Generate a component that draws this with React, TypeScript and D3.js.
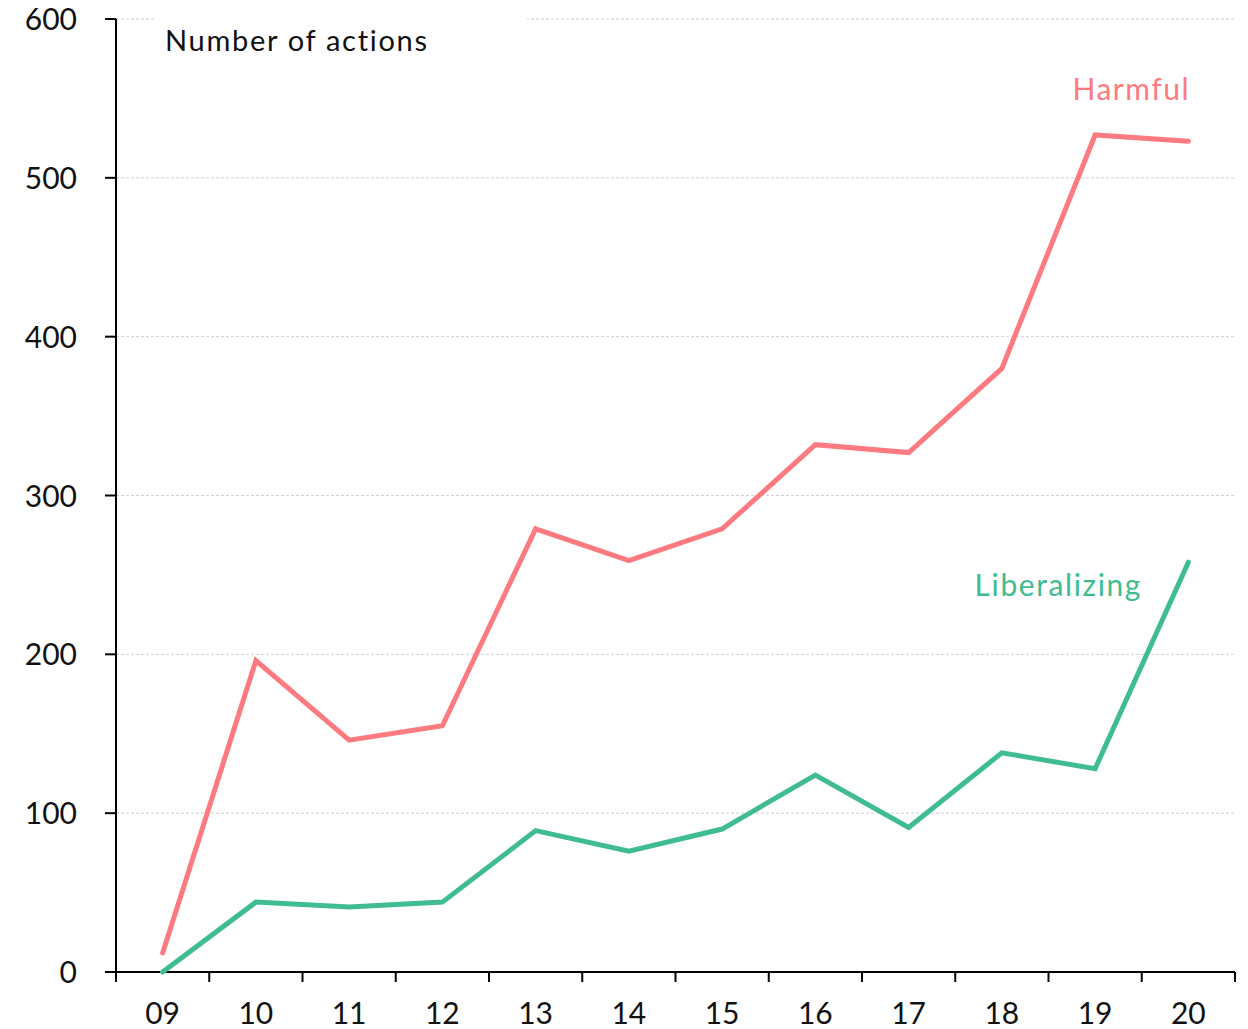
import * as d3 from 'd3';

const years = ['09', '10', '11', '12', '13', '14', '15', '16', '17', '18', '19', '20'];
const harmful = [12, 196, 146, 155, 279, 259, 279, 332, 327, 380, 527, 523];
const liberalizing = [0, 44, 41, 44, 89, 76, 90, 124, 91, 138, 128, 258];
const yTicks = [0, 100, 200, 300, 400, 500, 600];

const WIDTH = 1248;
const HEIGHT = 1029;
const FONT = "Lato, 'Noto Sans', sans-serif";
const RED = '#fd7a80';
const GREEN = '#40bc91';

export default function App() {
  const left = 116;
  const right = 1235;
  const top = 19;
  const bottom = 972;

  const x = d3.scaleBand<string>().domain(years).range([left, right]);
  const y = d3.scaleLinear().domain([0, 600]).range([bottom, top]);
  const cx = (d: string) => (x(d) ?? 0) + x.bandwidth() / 2;

  const line = d3.line<number>()
    .x((_, i) => cx(years[i]))
    .y(d => y(d));

  return (
    <svg
      width={WIDTH}
      height={HEIGHT}
      style={{ position: 'absolute', left: 0, top: 0, background: '#fff' }}
      fontFamily={FONT}
    >
      {/* gridlines */}
      {yTicks.filter(t => t > 0).map(t => (
        <line
          key={t}
          x1={left}
          x2={right}
          y1={y(t)}
          y2={y(t)}
          stroke="#d0d0d0"
          strokeWidth={1}
          strokeDasharray="3,2"
        />
      ))}

      {/* title box covering gridline */}
      <rect x={155} y={12} width={372} height={40} fill="#fff" />
      <text x={165} y={51} fontSize={29} letterSpacing={1.7} fill="#111">Number of actions</text>

      {/* y axis */}
      <line x1={left} x2={left} y1={top} y2={bottom} stroke="#000" strokeWidth={2} />
      {yTicks.map(t => (
        <g key={t}>
          <line x1={105} x2={left} y1={y(t)} y2={y(t)} stroke="#000" strokeWidth={2} />
          <text x={77} y={y(t) + 11} textAnchor="end" fontSize={30} fill="#111">{t}</text>
        </g>
      ))}

      {/* x axis */}
      <line x1={105} x2={right} y1={bottom} y2={bottom} stroke="#000" strokeWidth={2} />
      {years.map(d => (
        <line key={'t' + d} x1={x(d)} x2={x(d)} y1={bottom} y2={bottom + 10} stroke="#000" strokeWidth={2} />
      ))}
      <line x1={right} x2={right} y1={bottom} y2={bottom + 10} stroke="#000" strokeWidth={2} />
      {years.map(d => (
        <text key={'l' + d} x={cx(d)} y={1024} textAnchor="middle" fontSize={30} fill="#111">{d}</text>
      ))}

      {/* series */}
      <path d={line(harmful) ?? ''} fill="none" stroke={RED} strokeWidth={5} strokeLinecap="round" strokeLinejoin="miter" />
      <path d={line(liberalizing) ?? ''} fill="none" stroke={GREEN} strokeWidth={5} strokeLinecap="round" strokeLinejoin="miter" />

      <text x={1190} y={100} textAnchor="end" fontSize={30} letterSpacing={1.5} fill={RED}>Harmful</text>
      <text x={1142} y={596} textAnchor="end" fontSize={30} letterSpacing={1.6} fill={GREEN}>Liberalizing</text>
    </svg>
  );
}
